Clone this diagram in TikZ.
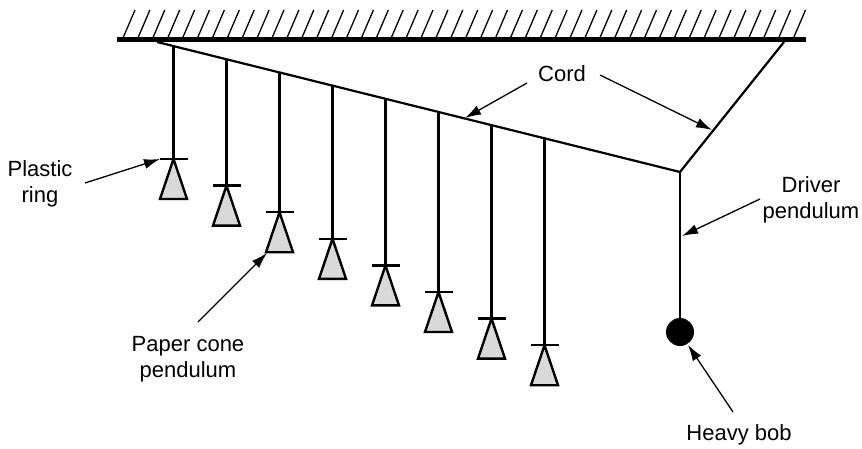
\documentclass[tikz,border=0pt]{standalone}
\usepackage{fontspec}
\setmainfont{Liberation Sans}
\usetikzlibrary{arrows.meta,calc}
\definecolor{conegray}{HTML}{D9D9D9}

\begin{document}
\begin{tikzpicture}[x=1pt,y=-1pt,
  caption/.style={font=\fontsize{22}{26}\selectfont, align=center, inner sep=0pt},
  pointer/.style={line width=1.3pt, -{Latex[length=16pt,width=10pt]}},
  thread/.style={line width=2.2pt},
  cone/.style={draw, line width=2.4pt, fill=conegray, line join=miter},
  ringbar/.style={line width=2.5pt},
]
\useasboundingbox (0,0) rectangle (862,449);

% ceiling with hatching
\foreach \i in {0,...,45}
  \draw[line width=1.3pt] ({123+14.9*\i},38) -- ({135+14.9*\i},10);
\draw[line width=5pt] (117,40) -- (806,40);

% the cord
\coordinate (anchorL) at (157,42);
\coordinate (anchorR) at (784,42);
\coordinate (junction) at (680,172);
\draw[thread, line join=miter] (anchorL) -- (junction) -- (anchorR);

% paper cone pendulums hanging from the cord
\foreach \i in {0,...,7}{
  \pgfmathsetmacro\px{173.5+53*\i}
  \pgfmathsetmacro\ry{159+26.6*\i}
  \pgfmathsetmacro\ty{42+(\px-157)*0.24857}
  \coordinate (top\i) at (\px,\ty);
  \coordinate (ring\i) at (\px,\ry);
  \draw[thread] (top\i) -- (ring\i);
  \draw[cone] (ring\i) -- ++(-13.5,40) -- ++(27,0) -- cycle;
  \draw[ringbar] ($(ring\i)+(-14,0)$) -- ($(ring\i)+(14,0)$);
}

% driver pendulum with heavy bob
\coordinate (bob) at (680,332);
\draw[thread] (junction) -- (bob);
\fill (bob) circle (14);

% labels
\node[caption, anchor=base] (cordtext) at (562,82) {Cord};
\node[caption] (ringtext) at (40,184) {Plastic\\ring};
\node[caption] (drivertext) at (811,200) {Driver\\pendulum};
\node[caption, anchor=base] (bobtext) at (739,440) {Heavy bob};
\node[caption] (conetext) at (188,359) {Paper cone\\pendulum};

% pointer tails
\coordinate (cordL) at (527,83);
\coordinate (cordR) at (600,75);
\coordinate (ringP) at (85,183);
\coordinate (coneP) at (198,322);
\coordinate (driverP) at (760,199);
\coordinate (bobP) at (733,412);

% pointer tips
\coordinate (cordLtip) at (465,118);
\coordinate (cordRtip) at (712,130);
\coordinate (ringtip) at (160,159);
\coordinate (conetip) at (267,253);
\coordinate (drivertip) at (682,236);
\coordinate (bobtip) at (688,345);

\draw[pointer] (cordL) -- (cordLtip);
\draw[pointer] (cordR) -- (cordRtip);
\draw[pointer] (ringP) -- (ringtip);
\draw[pointer] (coneP) -- (conetip);
\draw[pointer] (driverP) -- (drivertip);
\draw[pointer] (bobP) -- (bobtip);
\end{tikzpicture}
\end{document}
